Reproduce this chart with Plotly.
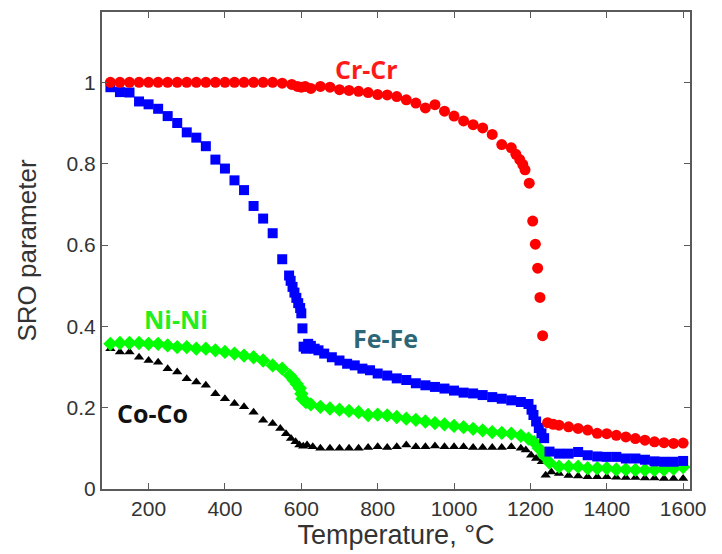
import plotly.graph_objects as go

# ---------------- data ----------------
cr_T = [100, 125, 150, 175, 200, 225, 250, 275, 300, 325, 350, 375, 400, 425, 450, 475, 500, 525,
        550, 575, 590, 600, 610, 625, 650, 675, 700, 725, 750, 775, 800, 825, 850, 875, 900, 925,
        950, 975, 1000, 1025, 1050, 1075, 1100, 1125, 1150, 1162, 1172, 1180, 1186, 1197, 1206,
        1213, 1219, 1225, 1232, 1245, 1260, 1275, 1300, 1325, 1350, 1375, 1400, 1425, 1450, 1475,
        1500, 1525, 1550, 1575, 1600]
cr_v = [1.0, 1.0, 1.0, 1.0, 1.0, 1.0, 1.0, 1.0, 1.0, 1.0, 1.0, 1.0, 1.0, 1.0, 1.0, 1.0, 1.0, 1.0,
        0.998, 0.995, 0.99, 0.988, 0.99, 0.985, 0.99, 0.988, 0.982, 0.98, 0.978, 0.975, 0.97, 0.969,
        0.965, 0.957, 0.949, 0.937, 0.945, 0.929, 0.917, 0.905, 0.896, 0.888, 0.872, 0.847, 0.839,
        0.823, 0.81, 0.798, 0.785, 0.752, 0.659, 0.602, 0.543, 0.471, 0.377, 0.163, 0.159, 0.157,
        0.153, 0.149, 0.145, 0.137, 0.136, 0.132, 0.128, 0.124, 0.12, 0.116, 0.114, 0.112, 0.113]

fe_T = [100, 125, 150, 175, 200, 225, 250, 275, 300, 325, 350, 375, 400, 425, 450, 475, 500, 525,
        550, 568, 572, 577, 582, 587, 592, 597, 600, 603, 606, 612, 618, 625, 635, 645, 660, 680,
        700, 720, 740, 760, 780, 800, 825, 850, 875, 900, 925, 950, 975, 1000, 1025, 1050, 1075,
        1100, 1125, 1150, 1175, 1195, 1203, 1208, 1215, 1222, 1229, 1236, 1250, 1275, 1300, 1325,
        1350, 1375, 1400, 1425, 1450, 1475, 1500, 1525, 1550, 1575, 1600]
fe_v = [0.988, 0.976, 0.975, 0.953, 0.946, 0.935, 0.917, 0.900, 0.877, 0.864, 0.843, 0.810, 0.788,
        0.759, 0.735, 0.696, 0.665, 0.629, 0.565, 0.525, 0.512, 0.497, 0.483, 0.47, 0.457, 0.445,
        0.432, 0.395, 0.35, 0.345, 0.357, 0.352, 0.345, 0.341, 0.333, 0.324, 0.316, 0.308, 0.304,
        0.296, 0.292, 0.284, 0.279, 0.272, 0.268, 0.26, 0.255, 0.251, 0.247, 0.242, 0.237, 0.235,
        0.231, 0.226, 0.222, 0.218, 0.214, 0.209, 0.195, 0.182, 0.166, 0.15, 0.137, 0.125, 0.092,
        0.087, 0.087, 0.091, 0.083, 0.08, 0.079, 0.079, 0.075, 0.075, 0.072, 0.068, 0.067, 0.067,
        0.069]

ni_T = [100, 125, 150, 175, 200, 225, 250, 275, 300, 325, 350, 375, 400, 425, 450, 475, 500, 525,
        550, 570, 580, 588, 596, 600, 603, 612, 625, 650, 675, 700, 725, 750, 775, 800, 825, 850,
        875, 900, 925, 950, 975, 1000, 1025, 1050, 1075, 1100, 1125, 1150, 1175, 1195, 1210, 1222,
        1235, 1250, 1275, 1300, 1325, 1350, 1375, 1400, 1425, 1450, 1475, 1500, 1525, 1550, 1575,
        1600]
ni_v = [0.357, 0.359, 0.359, 0.359, 0.357, 0.357, 0.353, 0.349, 0.349, 0.345, 0.345, 0.341, 0.337,
        0.333, 0.328, 0.324, 0.316, 0.304, 0.296, 0.279, 0.268, 0.258, 0.248, 0.234, 0.222, 0.214,
        0.208, 0.202, 0.198, 0.195, 0.192, 0.189, 0.182, 0.183, 0.181, 0.177, 0.173, 0.17, 0.166,
        0.162, 0.159, 0.155, 0.152, 0.148, 0.144, 0.14, 0.138, 0.136, 0.131, 0.124, 0.115, 0.1,
        0.083, 0.065, 0.055, 0.055, 0.055, 0.051, 0.051, 0.051, 0.048, 0.048, 0.047, 0.047, 0.047,
        0.048, 0.05, 0.054]

co_T = [100, 125, 150, 175, 200, 225, 250, 275, 300, 325, 350, 375, 400, 425, 450, 475, 500, 525,
        545, 560, 573, 585, 595, 605, 615, 630, 650, 675, 700, 725, 750, 775, 800, 825, 850, 875,
        900, 925, 950, 975, 1000, 1025, 1050, 1075, 1100, 1125, 1150, 1175, 1188, 1202, 1215, 1230,
        1240, 1255, 1275, 1300, 1325, 1350, 1375, 1400, 1425, 1450, 1475, 1500, 1525, 1550, 1575,
        1600]
co_v = [0.345, 0.337, 0.337, 0.324, 0.316, 0.312, 0.296, 0.288, 0.271, 0.263, 0.255, 0.234, 0.222,
        0.21, 0.202, 0.189, 0.169, 0.161, 0.149, 0.136, 0.124, 0.116, 0.108, 0.105, 0.108, 0.104,
        0.1, 0.1, 0.1, 0.1, 0.1, 0.102, 0.104, 0.102, 0.104, 0.108, 0.104, 0.104, 0.106, 0.104,
        0.104, 0.104, 0.102, 0.102, 0.102, 0.102, 0.104, 0.1, 0.096, 0.083, 0.075, 0.067, 0.034,
        0.042, 0.038, 0.033, 0.032, 0.03, 0.03, 0.03, 0.029, 0.028, 0.028, 0.027, 0.027, 0.026,
        0.026, 0.026]

x_ticks = [200, 400, 600, 800, 1000, 1200, 1400, 1600]
y_ticks = [0, 0.2, 0.4, 0.6, 0.8, 1]

labels = ["Cr-Cr", "Fe-Fe", "Ni-Ni", "Co-Co"]
label_T = [770, 820, 272, 209]
label_v = [1.034, 0.372, 0.418, 0.186]
label_colors = ["#ff1a1a", "#2d6677", "#22ee22", "#111111"]

# ---------------- figure ----------------
fig = go.Figure()
fig.add_trace(go.Scatter(x=co_T, y=co_v, mode="markers", name="Co-Co",
                         marker=dict(symbol="triangle-up", size=9, color="#000000")))
fig.add_trace(go.Scatter(x=ni_T, y=ni_v, mode="markers", name="Ni-Ni",
                         marker=dict(symbol="diamond", size=11, color="#00ff00")))
fig.add_trace(go.Scatter(x=fe_T, y=fe_v, mode="markers", name="Fe-Fe",
                         marker=dict(symbol="square", size=10, color="#0000ff")))
fig.add_trace(go.Scatter(x=cr_T, y=cr_v, mode="markers", name="Cr-Cr",
                         marker=dict(symbol="circle", size=11, color="#ff0000")))

for t, tx, ty, c in zip(labels, label_T, label_v, label_colors):
    fig.add_annotation(x=tx, y=ty, xref="x", yref="y", text="<b>%s</b>" % t, showarrow=False,
                       font=dict(family="Open Sans", size=25, color=c))

axis_common = dict(showgrid=False, zeroline=False, showline=True, linecolor="#5a5a5a",
                   linewidth=2, mirror="ticks", ticks="inside", ticklen=6, tickwidth=1,
                   tickcolor="#5a5a5a",
                   tickfont=dict(family="Liberation Sans, Arial", size=21, color="#333333"))

fig.update_layout(
    width=722, height=554,
    margin=dict(l=102, r=32, t=10, b=65),
    paper_bgcolor="white", plot_bgcolor="white",
    showlegend=False,
    xaxis=dict(range=[78, 1618], tickvals=x_ticks, ticktext=[str(v) for v in x_ticks],
               title=dict(text="Temperature, °C", standoff=0,
                          font=dict(family="Liberation Sans, Arial", size=27, color="#333333")),
               **axis_common),
    yaxis=dict(range=[0, 1.173], tickvals=y_ticks, ticktext=["0", "0.2", "0.4", "0.6", "0.8", "1"],
               title=dict(text="SRO parameter", standoff=22,
                          font=dict(family="Liberation Sans, Arial", size=26, color="#333333")),
               **axis_common),
)

fig.write_html("out.html")
